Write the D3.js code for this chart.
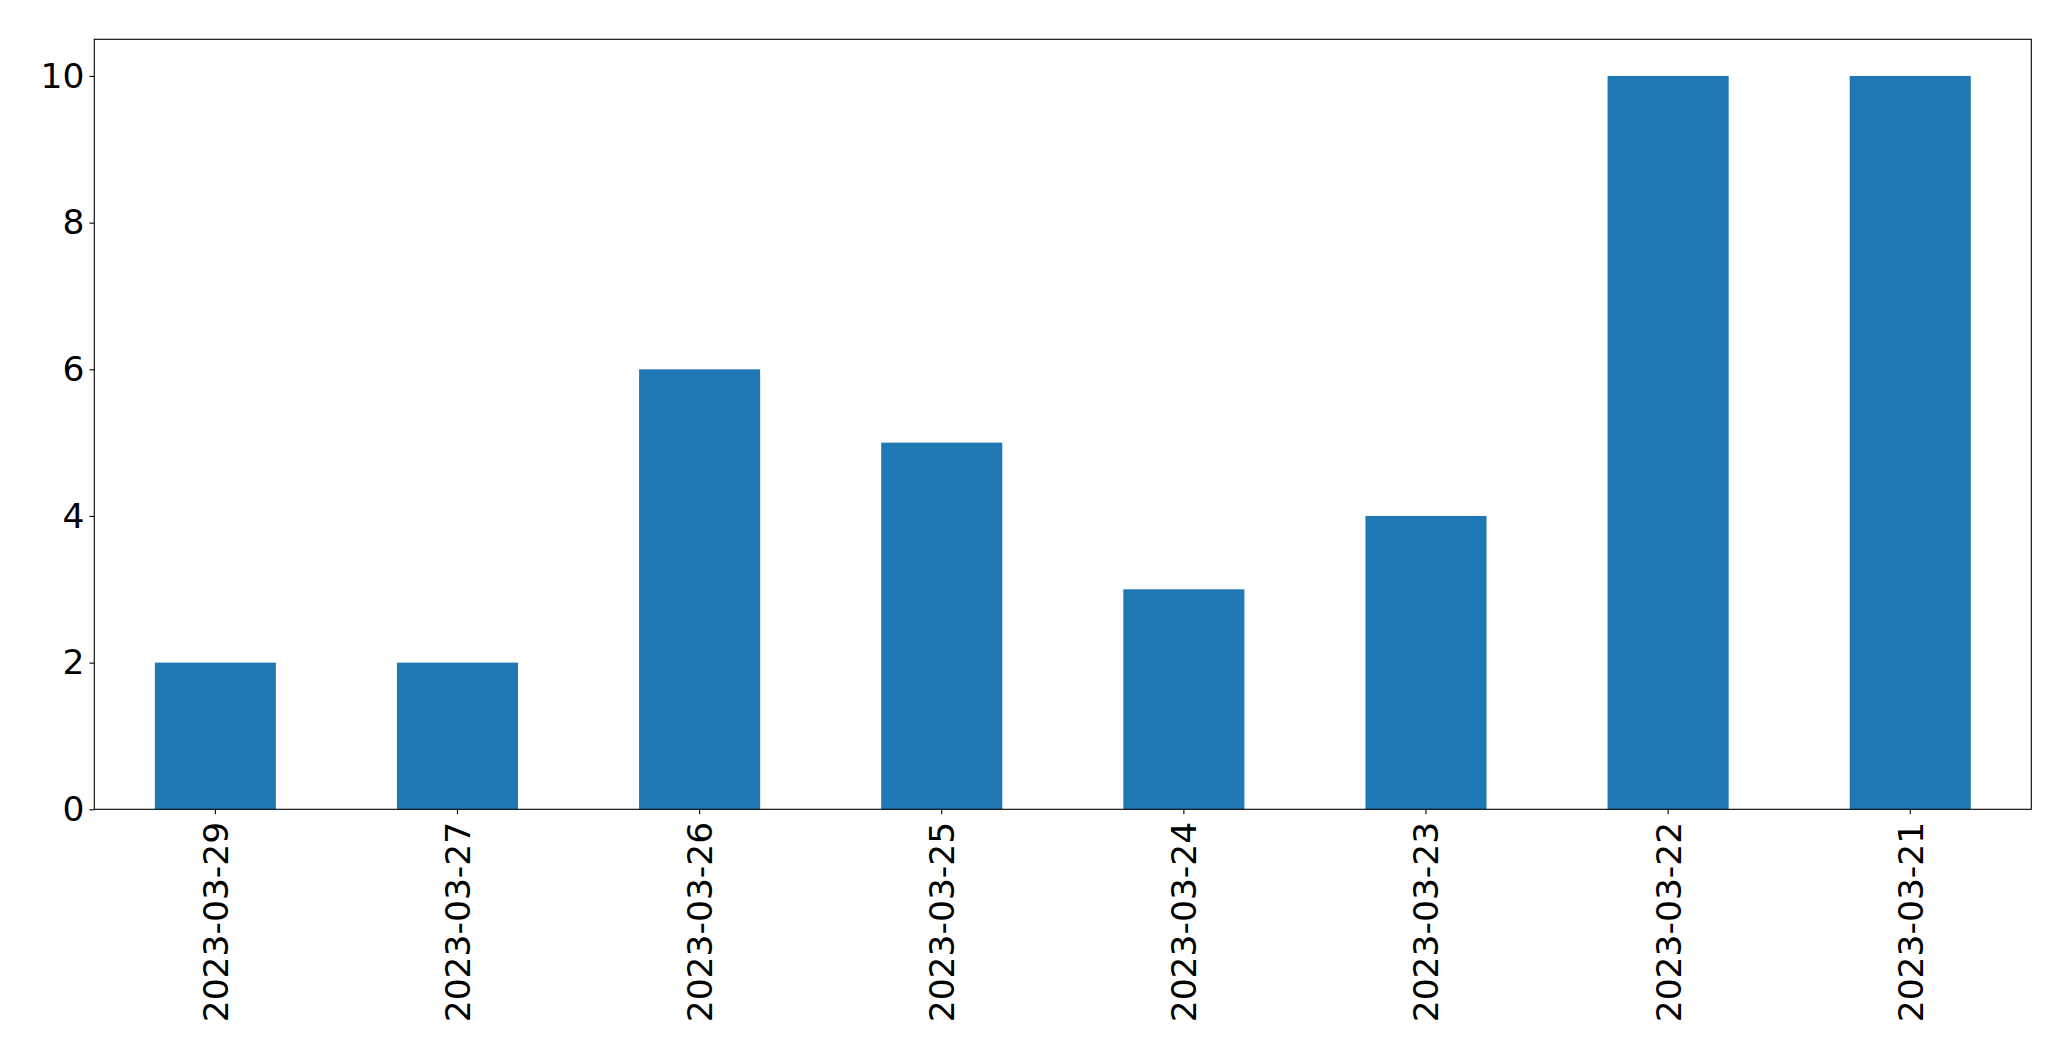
<!DOCTYPE html>
<html><head><meta charset="utf-8">
<script src="https://cdn.jsdelivr.net/npm/d3@7"></script>
<style>body{margin:0;background:#fff}svg{display:block}</style>
</head><body>
<script>
const categories = ["2023-03-29","2023-03-27","2023-03-26","2023-03-25","2023-03-24","2023-03-23","2023-03-22","2023-03-21"];
const values = [2,2,6,5,3,4,10,10];
const yTicks = [0,2,4,6,8,10];

const W = 2071, H = 1061;
const m = {left: 94.3, right: 2071-2031.3, top: 39.3, bottom: 1061-809.3};
const fs = 34.5;
const svg = d3.select("body").append("svg").attr("width", W).attr("height", H);

const x = d3.scaleBand().domain(categories).range([m.left, W-m.right]).paddingInner(0.5).paddingOuter(0.25);
const y = d3.scaleLinear().domain([0,10.5]).range([H-m.bottom, m.top]);

svg.append("g").selectAll("rect").data(values).join("rect")
  .attr("x",(d,i)=>x(categories[i])).attr("width",x.bandwidth())
  .attr("y",d=>y(d)).attr("height",d=>y(0)-y(d)).attr("fill","#1f77b4");

const font = "DejaVu Sans";
// y axis
const ya = svg.append("g").attr("transform",`translate(${m.left},0)`)
  .call(d3.axisLeft(y).tickValues(yTicks).tickSize(4.9).tickPadding(4.9).tickFormat(d3.format("d")));
ya.select(".domain").remove();
ya.selectAll("text").attr("font-family",font).attr("font-size",fs).attr("fill","#000");
ya.selectAll("line").attr("stroke","#000").attr("stroke-width",1.1);

// x axis
const xa = svg.append("g").attr("transform",`translate(0,${H-m.bottom})`)
  .call(d3.axisBottom(x).tickSize(4.9).tickPadding(4.9));
xa.select(".domain").remove();
xa.selectAll("line").attr("stroke","#000").attr("stroke-width",1.1);
xa.selectAll("text").attr("font-family",font).attr("font-size",fs).attr("fill","#000")
  .attr("text-anchor","end").attr("y",0).attr("dy","0.36em")
  .attr("transform","translate(0,12.5) rotate(-90)");

// frame
svg.append("rect").attr("x",m.left).attr("y",m.top)
  .attr("width",W-m.right-m.left).attr("height",H-m.bottom-m.top)
  .attr("fill","none").attr("stroke","#000").attr("stroke-width",1.1);
</script>
</body></html>
